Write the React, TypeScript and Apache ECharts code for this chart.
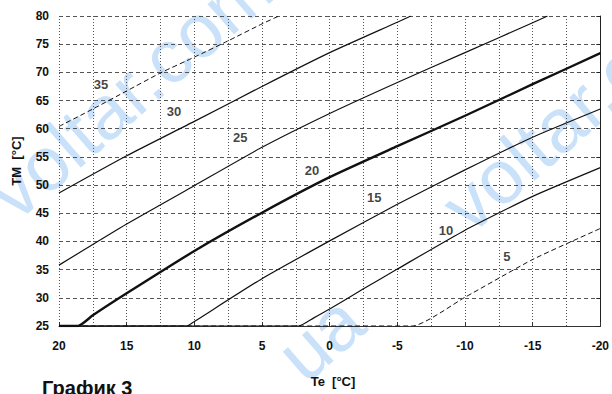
import React, { useEffect, useRef } from "react";
import * as echarts from "echarts";

// ---- data (Te [°C] on x, TM [°C] on y), curves labelled by room temperature ----
const xTicks = [20, 15, 10, 5, 0, -5, -10, -15, -20];
const yTicks = [25, 30, 35, 40, 45, 50, 55, 60, 65, 70, 75, 80];

const curve35: [number, number][] = [
  [20, 60.4], [17.5, 63.5], [15, 66.7], [12.5, 69.9], [10, 72.7], [7.5, 75.6], [5, 78.6], [3.75, 80],
];
const curve30: [number, number][] = [
  [20, 48.6], [15, 55.2], [10, 61.3], [5, 67.5], [0, 73.5], [-5, 78.9], [-6, 80],
];
const curve25: [number, number][] = [
  [20, 35.8], [15, 43.1], [10, 49.9], [5, 56.7], [0, 62.7], [-5, 68.2], [-10, 73.5], [-15, 78.8], [-16.1, 80],
];
const curve20: [number, number][] = [
  [20, 25], [18.6, 25], [17.5, 26.9], [15, 30.8], [10, 38.3], [5, 45.1], [0, 51.4], [-5, 56.9], [-10, 62.3], [-15, 67.9], [-20, 73.4],
];
const curve15: [number, number][] = [
  [20, 25], [10.55, 25], [10, 25.8], [5, 33.4], [0, 40.1], [-5, 46.6], [-10, 52.7], [-15, 58.5], [-20, 63.5],
];
const curve10: [number, number][] = [
  [20, 25], [2.3, 25], [1.2, 26.4], [0, 28], [-2.5, 31.6], [-5, 35.1], [-10, 42], [-15, 48], [-20, 53.1],
];
const curve5: [number, number][] = [
  [20, 25], [-6.1, 25], [-10, 30.1], [-15, 36.8], [-20, 42.3],
];

const curveLabels = ["35", "30", "25", "20", "15", "10", "5"];
const labelPositions: [number, number][] = [
  [16.9, 67.9], [11.5, 63.1], [6.6, 58.4], [1.3, 52.6], [-3.3, 47.8], [-8.6, 42.0], [-13.1, 37.4],
];

const FONT = '"Liberation Sans", Arial, sans-serif';
const WM = "#cae1fa";

export default function App() {
  const ref = useRef<HTMLDivElement>(null);
  useEffect(() => {
    document.body.style.margin = "0";
    const chart = echarts.init(ref.current!, null, { renderer: "svg" });
    const lineS = (name: string, data: [number, number][], width: number, type: any) => ({
      name,
      type: "line",
      data,
      smooth: 0.18,
      symbol: "none",
      clip: true,
      z: 3,
      lineStyle: { color: "#111", width, type, join: "round" },
    });
    const deg = (41 * Math.PI) / 180;
    const wm = (text: string, x: number, y: number) => ({
      type: "text",
      x,
      y,
      rotation: deg,
      z: -10,
      silent: true,
      style: {
        text,
        font: `76px ${FONT}`,
        fill: WM,
        textAlign: "left",
        textVerticalAlign: "bottom",
        align: "left",
        verticalAlign: "bottom",
      },
    });
    chart.setOption({
      animation: false,
      backgroundColor: "#fff",
      grid: { left: 59, right: 5, top: 16, bottom: 68, containLabel: false },
      xAxis: {
        type: "value",
        inverse: true,
        min: -20,
        max: 20,
        interval: 5,
        axisLine: { show: true, onZero: false, lineStyle: { color: "#333", width: 1 } },
        axisTick: { show: true, inside: true, length: 4, lineStyle: { color: "#333" } },
        axisLabel: {
          margin: 14,
          color: "#111",
          fontFamily: FONT,
          fontSize: 12,
          fontWeight: "bold",
          formatter: (v: number) => (xTicks.includes(v) ? String(v) : ""),
        },
        splitLine: { show: true, lineStyle: { color: "#555", type: [1, 2], width: 1 } },
        minorTick: { show: false, splitNumber: 2 },
        minorSplitLine: { show: true, lineStyle: { color: "#555", type: [1, 2], width: 1 } },
      },
      yAxis: [
        {
          type: "value",
          min: 25,
          max: 80,
          interval: 5,
          axisLine: { show: false },
          axisTick: { show: false },
          axisLabel: {
            margin: 10,
            color: "#111",
            fontFamily: FONT,
            fontSize: 12,
            fontWeight: "bold",
            formatter: (v: number) => (yTicks.includes(v) ? String(v) : ""),
          },
          splitLine: { show: true, lineStyle: { color: "#555", type: [4, 3], width: 1 } },
        },
        {
          type: "value",
          position: "right",
          min: 25,
          max: 80,
          interval: 5,
          axisLine: { show: true, lineStyle: { color: "#222", width: 1 } },
          axisTick: { show: true, inside: true, length: 4, lineStyle: { color: "#222" } },
          axisLabel: { show: false },
          splitLine: { show: false },
        },
      ],
      graphic: [
        wm("voltar.com.ua", 24, 232),
        wm("voltar.com.ua", 478, 245),
        wm("ua", 313, 394),
        {
          type: "text",
          x: 16,
          y: 161,
          rotation: Math.PI / 2,
          style: {
            text: "TM  [°C]",
            font: `bold 13px ${FONT}`,
            fill: "#111",
            textAlign: "center",
            textVerticalAlign: "middle",
            align: "center",
            verticalAlign: "middle",
          },
        },
        {
          type: "text",
          x: 333,
          y: 381,
          style: {
            text: "Te  [°C]",
            font: `bold 13px ${FONT}`,
            fill: "#111",
            textAlign: "center",
            textVerticalAlign: "middle",
            align: "center",
            verticalAlign: "middle",
          },
        },
        {
          type: "text",
          x: 42,
          y: 378,
          style: {
            text: "График 3",
            font: `bold 20px ${FONT}`,
            fill: "#111",
            textAlign: "left",
            textVerticalAlign: "top",
            align: "left",
            verticalAlign: "top",
          },
        },
      ],
      series: [
        lineS("35", curve35, 1, [5, 3]),
        lineS("30", curve30, 1.2, "solid"),
        lineS("25", curve25, 1.2, "solid"),
        lineS("20", curve20, 2.4, "solid"),
        lineS("15", curve15, 1.2, "solid"),
        lineS("10", curve10, 1.2, "solid"),
        lineS("5", curve5, 1, [5, 3]),
        {
          type: "scatter",
          symbolSize: 0,
          z: 4,
          data: labelPositions.map((p, i) => ({ value: p, name: curveLabels[i] })),
          label: {
            show: true,
            position: "inside",
            formatter: (p: any) => p.name,
            color: "#111",
            fontFamily: FONT,
            fontSize: 13,
            fontWeight: "bold",
          },
        },
      ],
    });
    return () => chart.dispose();
  }, []);
  return <div ref={ref} style={{ position: "fixed", left: 0, top: 0, width: 612, height: 394 }} />;
}
